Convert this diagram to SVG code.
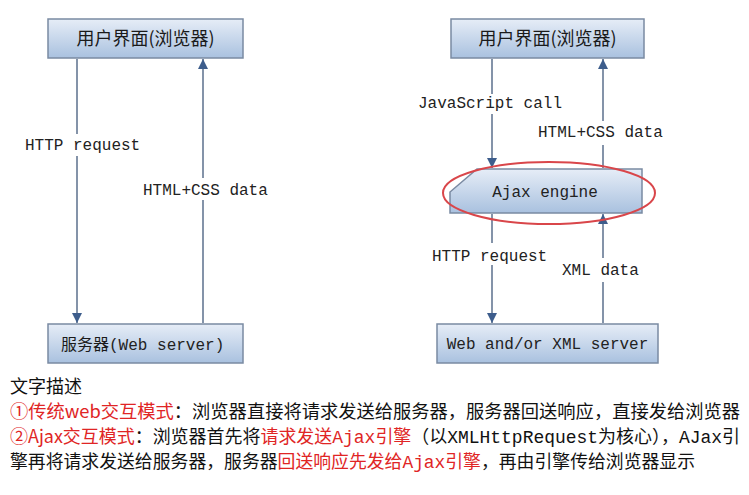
<svg xmlns="http://www.w3.org/2000/svg" width="749" height="495" viewBox="0 0 749 495">
<defs>
<linearGradient id="boxg" x1="0" y1="0" x2="0" y2="1">
<stop offset="0" stop-color="#e6edf7"/>
<stop offset="1" stop-color="#a9c1df"/>
</linearGradient>
<marker id="ah" viewBox="0 0 10 10" refX="10" refY="5" markerWidth="10" markerHeight="10" markerUnits="userSpaceOnUse" orient="auto">
<path d="M0,0 L10,5 L0,10 Z" fill="#3d5d8c"/>
</marker>
<style>
.box{fill:url(#boxg);stroke:#7a8aa2;stroke-width:1.5}
.cjk{font-family:"Noto Sans CJK SC",sans-serif;fill:#1a1a1a}
.mono{font-family:"Liberation Mono","DejaVu Sans Mono",monospace;font-size:16px;fill:#222}
.conn{stroke:#5b6f8c;stroke-width:1.5;fill:none;marker-end:url(#ah)}
.lbl{fill:#fff}
.desc{font-family:"Noto Sans CJK SC",sans-serif;font-size:18px;fill:#111}
.red{fill:#e02525}
.am{font-family:"Liberation Mono",monospace}
</style>
</defs>
<rect width="749" height="495" fill="#fff"/>

<g id="connectors">
<line class="conn" x1="77" y1="59" x2="77" y2="323"/>
<line class="conn" x1="203" y1="323" x2="203" y2="59"/>
<line class="conn" x1="492" y1="59" x2="492" y2="168"/>
<line class="conn" x1="603" y1="168" x2="603" y2="59"/>
<line class="conn" x1="492" y1="214" x2="492" y2="323"/>
<line class="conn" x1="603" y1="323" x2="603" y2="214"/>
</g>

<g id="labels">
<rect class="lbl" x="23" y="134" width="120" height="22"/>
<text class="mono" x="25" y="150">HTTP request</text>
<rect class="lbl" x="141" y="178" width="130" height="22"/>
<text class="mono" x="143" y="195">HTML+CSS data</text>
<rect class="lbl" x="416" y="94" width="150" height="20"/>
<text class="mono" x="418" y="108">JavaScript call</text>
<rect class="lbl" x="536" y="121" width="130" height="24"/>
<text class="mono" x="538" y="137">HTML+CSS data</text>
<rect class="lbl" x="430" y="243" width="120" height="22"/>
<text class="mono" x="432" y="261">HTTP request</text>
<rect class="lbl" x="560" y="258" width="82" height="24"/>
<text class="mono" x="562" y="275">XML data</text>
</g>

<g id="browser-left">
<rect class="box" x="48" y="19" width="195" height="39"/>
<text class="cjk" x="145.5" y="45" font-size="18" text-anchor="middle">用户界面(浏览器)</text>
</g>

<g id="server-left">
<rect class="box" x="48" y="324" width="195" height="39"/>
<text x="61" y="350"><tspan class="cjk" font-size="16">服务器</tspan><tspan class="mono">(Web server)</tspan></text>
</g>

<g id="browser-right">
<rect class="box" x="451" y="19" width="193" height="39"/>
<text class="cjk" x="547.5" y="45" font-size="18" text-anchor="middle">用户界面(浏览器)</text>
</g>

<g id="ajax-engine">
<polygon class="box" points="477,169 642,169 642,213 450,213 450,192"/>
<text class="mono" x="545" y="197" text-anchor="middle">Ajax engine</text>
<ellipse cx="549" cy="193" rx="106" ry="31" fill="none" stroke="#d9464a" stroke-width="2"/>
</g>

<g id="server-right">
<rect class="box" x="437" y="324" width="221" height="39"/>
<text class="mono" x="547.5" y="349" text-anchor="middle">Web and/or XML server</text>
</g>

<g id="description">
<text class="desc" x="10" y="393">文字描述</text>
<text class="desc" x="10" y="418" textLength="730" lengthAdjust="spacingAndGlyphs"><tspan class="red">①传统web交互模式</tspan>：浏览器直接将请求发送给服务器，服务器回送响应，直接发给浏览器</text>
<text class="desc" x="10" y="443" textLength="730" lengthAdjust="spacingAndGlyphs"><tspan class="red">②Ajax交互模式</tspan>：浏览器首先将<tspan class="red">请求发送<tspan class="am">Ajax</tspan>引擎</tspan>（以<tspan class="am">XMLHttpRequest</tspan>为核心），<tspan class="am">AJax</tspan>引</text>
<text class="desc" x="10" y="468" textLength="685" lengthAdjust="spacingAndGlyphs">擎再将请求发送给服务器，服务器<tspan class="red">回送响应先发给<tspan class="am">Ajax</tspan>引擎</tspan>，再由引擎传给浏览器显示</text>
</g>
</svg>
